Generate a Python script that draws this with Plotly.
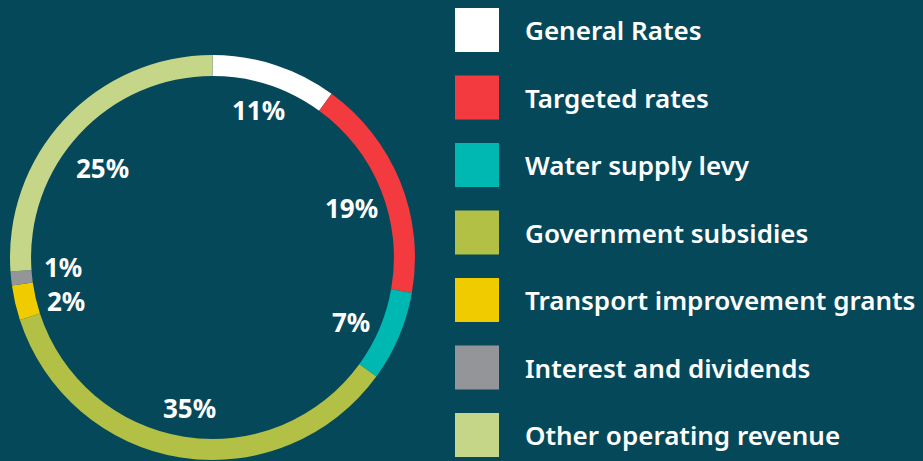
import math
import plotly.graph_objects as go

# Revenue sources (share of ring)
categories = [
    "General Rates",
    "Targeted rates",
    "Water supply levy",
    "Government subsidies",
    "Transport improvement grants",
    "Interest and dividends",
    "Other operating revenue",
]
values = [10.0, 17.8, 7.2, 35.0, 2.8, 1.1, 26.1]
labels = ["11%", "19%", "7%", "35%", "2%", "1%", "25%"]
colors = ["#ffffff", "#f23a3f", "#00b8b2", "#b2c145", "#efcb00", "#939598", "#c5d688"]

BG = "#05485a"
W, H = 923, 461

# ring geometry in pixels
cx, cy, r_out = 212.5, 257.5, 202.5
r_label = 150
# small vertical nudges so the labels sit like the original (and 1%/2% don't collide)
label_yshift = [5, -7, -6, -2, -10, 6, -13]

fig = go.Figure()

fig.add_trace(
    go.Pie(
        labels=categories,
        values=values,
        sort=False,
        direction="clockwise",
        rotation=0,
        hole=0.896,
        marker=dict(colors=colors, line=dict(width=0)),
        textinfo="none",
        hoverinfo="label+percent",
        showlegend=False,
        domain=dict(
            x=[(cx - r_out) / W, (cx + r_out) / W],
            y=[1 - (cy + r_out) / H, 1 - (cy - r_out) / H],
        ),
    )
)

# percentage labels placed inside the hole, along each slice's mid angle
total = sum(values)
cum = 0
for v, lab, dy in zip(values, labels, label_yshift):
    mid = (cum + v / 2) / total * 2 * math.pi
    cum += v
    px = cx + r_label * math.sin(mid)
    py = cy - r_label * math.cos(mid)
    fig.add_annotation(
        x=px / W, y=1 - py / H, xref="paper", yref="paper",
        xanchor="center", yanchor="middle",
        text=lab, showarrow=False, yshift=dy,
        font=dict(family="Noto Sans", size=26, color="white", weight="bold"),
    )

# hand-built legend with large swatches
for i, (name, col) in enumerate(zip(categories, colors)):
    yc = 30 + i * 67.5
    fig.add_shape(
        type="rect", xref="paper", yref="paper",
        x0=455 / W, x1=499 / W, y0=1 - (yc + 22) / H, y1=1 - (yc - 22) / H,
        fillcolor=col, line=dict(width=0),
    )
    fig.add_annotation(
        x=523 / W, y=1 - yc / H, xref="paper", yref="paper",
        xanchor="left", yanchor="middle",
        text=name, showarrow=False,
        font=dict(family="Noto Sans", size=26, color="white", weight=600),
    )

fig.update_layout(
    width=W,
    height=H,
    margin=dict(l=0, r=0, t=0, b=0),
    paper_bgcolor=BG,
    plot_bgcolor=BG,
)

fig.write_html(
    "out.html",
    config={"displayModeBar": False},
    post_script="document.body.style.margin='0';document.body.style.background='" + BG + "';",
)
